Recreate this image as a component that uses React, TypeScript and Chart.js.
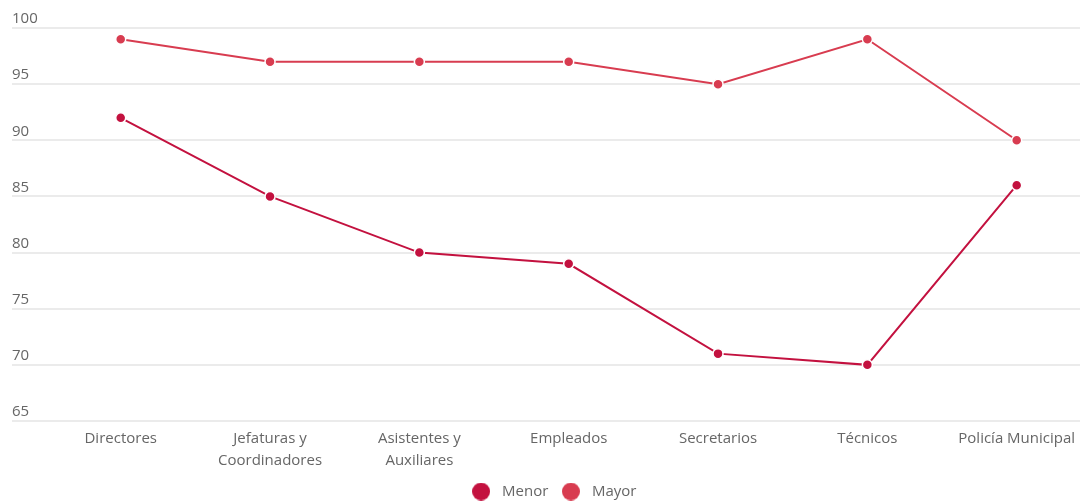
import React, { useEffect, useRef } from "react";
import { Chart, registerables } from "chart.js";

Chart.register(...registerables);

// Job categories along the x axis (each entry is one label, split into lines)
const categories: string[][] = [
  ["Directores"],
  ["Jefaturas y", "Coordinadores"],
  ["Asistentes y", "Auxiliares"],
  ["Empleados"],
  ["Secretarios"],
  ["Técnicos"],
  ["Policía Municipal"],
];

// Series values
const menorValues = [92, 85, 80, 79, 71, 70, 86];
const mayorValues = [99, 97, 97, 97, 95, 99, 90];

// Y axis tick values
const yTicks = [65, 70, 75, 80, 85, 90, 95, 100];

const MENOR_COLOR = "#c3113f";
const MAYOR_COLOR = "#d83c50";
const FONT_FAMILY = "'Open Sans', sans-serif";

function legendDot(color: string, size: number): HTMLCanvasElement {
  const c = document.createElement("canvas");
  c.width = size;
  c.height = size;
  const ctx = c.getContext("2d")!;
  ctx.fillStyle = color;
  ctx.beginPath();
  ctx.arc(size / 2, size / 2, size / 2, 0, Math.PI * 2);
  ctx.fill();
  return c;
}

// Nudges the legend block sideways after layout
const legendShift = {
  id: "legendShift",
  afterLayout(chart: any) {
    const lg = chart.legend;
    if (lg) {
      lg.left += 6;
      lg.right += 6;
    }
  },
};

export default function App() {
  const canvasRef = useRef<HTMLCanvasElement | null>(null);

  useEffect(() => {
    const canvas = canvasRef.current;
    if (!canvas) return;

    const series = [
      { label: "Menor", values: menorValues, color: MENOR_COLOR },
      { label: "Mayor", values: mayorValues, color: MAYOR_COLOR },
    ];

    const chart = new Chart(canvas, {
      type: "line",
      data: {
        datasets: series.map((s) => ({
          label: s.label,
          data: s.values.map((v, i) => ({ x: i, y: v })),
          borderColor: s.color,
          backgroundColor: s.color,
          borderWidth: 2,
          pointRadius: 5,
          pointHoverRadius: 5,
          pointBackgroundColor: s.color,
          pointBorderColor: "#ffffff",
          pointBorderWidth: 1.5,
          tension: 0,
          fill: false,
          clip: false,
        })),
      },
      options: {
        responsive: false,
        animation: false,
        layout: { autoPadding: false, padding: { left: 12, right: 0, top: 28, bottom: -8 } },
        scales: {
          x: {
            type: "linear",
            min: -0.728,
            max: 6.424,
            afterBuildTicks: (scale: any) => {
              scale.ticks = categories.map((_, i) => ({ value: i }));
            },
            afterFit: (scale: any) => {
              scale.height = 54;
              scale.paddingLeft = 0;
              scale.paddingRight = 0;
            },
            ticks: {
              autoSkip: false,
              maxRotation: 0,
              padding: 6,
              color: "#666666",
              font: { family: FONT_FAMILY, size: 15, lineHeight: 1.5 },
              callback: (v: any) => categories[Number(v)] ?? "",
            },
            grid: { display: false, drawTicks: false },
            border: { display: false },
          },
          y: {
            min: 65,
            max: 100,
            afterBuildTicks: (scale: any) => {
              scale.ticks = yTicks.map((v) => ({ value: v }));
            },
            ticks: {
              mirror: true,
              padding: 0,
              labelOffset: -9,
              color: "#666666",
              font: { family: FONT_FAMILY, size: 15 },
            },
            grid: { color: "#ebebeb", lineWidth: 2, drawTicks: false },
            border: { display: false },
          },
        },
        plugins: {
          tooltip: { enabled: false },
          legend: {
            position: "bottom",
            labels: {
              usePointStyle: true,
              pointStyleWidth: 27,
              boxHeight: 15,
              padding: 9,
              color: "#666666",
              font: { family: FONT_FAMILY, size: 15 },
              generateLabels: (ch: any) =>
                ch.data.datasets.map((ds: any, i: number) => ({
                  text: ds.label,
                  fillStyle: ds.borderColor,
                  strokeStyle: ds.borderColor,
                  lineWidth: 0,
                  pointStyle: legendDot(ds.borderColor, 18),
                  hidden: !ch.isDatasetVisible(i),
                  datasetIndex: i,
                  fontColor: "#666666",
                })),
            },
          },
        },
      },
      plugins: [legendShift],
    });

    return () => chart.destroy();
  }, []);

  return (
    <div style={{ position: "absolute", left: 0, top: 0, width: 1080, height: 501, background: "#ffffff" }}>
      <canvas ref={canvasRef} width={1080} height={501} />
    </div>
  );
}
